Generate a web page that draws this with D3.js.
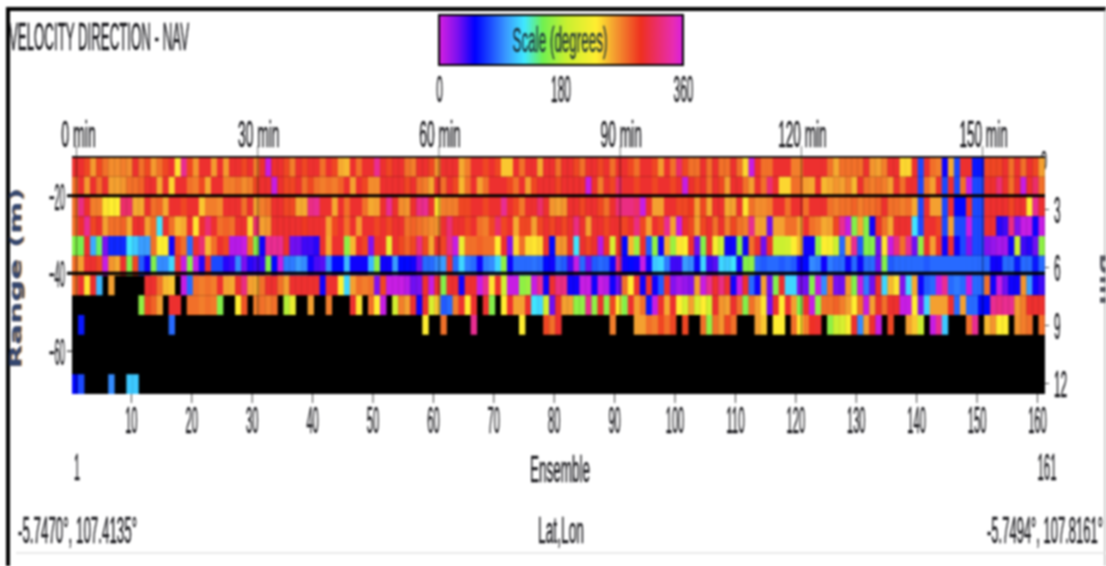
<!DOCTYPE html>
<html>
<head>
<meta charset="utf-8">
<style>
  html, body { margin: 0; padding: 0; background: #fff; overflow: hidden; }
  svg { display: block; filter: blur(1px); }
  text { font-family: "Liberation Sans", sans-serif; fill: #17171b; stroke: #17171b; stroke-width: 0.45px; }
  .domain { display: none; }
  .tick line { stroke: #444; }
</style>
</head>
<body>
<svg id="chart"></svg>
<script src="https://cdn.jsdelivr.net/npm/d3@7"></script>
<script>
// Velocity direction section, values are degrees, _ = no data (black)
var _ = null;

var ensembleTicks = [10, 20, 30, 40, 50, 60, 70, 80, 90, 100, 110, 120, 130, 140, 150, 160];
var minuteTicks = [0, 30, 60, 90, 120, 150];
var rangeTicks = [-20, -40, -60];
var binTicks = [3, 6, 9, 12];
var scaleTicks = [0, 180, 360];

var colourDegrees = [0, 28, 53, 100, 126, 153, 188, 232, 258, 298, 345, 360];
var colourValues = ["#d820e0", "#7a10f0", "#0000ff", "#3a9cff", "#40e8ff", "#70f050", "#c8f030",
                    "#ffee30", "#f4a030", "#ee3020", "#e82cb0", "#d820e0"];

var bin1 = [303,303,290,260,290,275,265,265,270,265,
  303,275,290,260,275,290,303,235,335,290,
  262,303,303,260,303,260,303,303,290,303,
  270,303,5,303,303,290,270,303,290,303,
  303,275,303,290,255,250,303,275,303,303,
  335,303,290,303,303,275,270,303,303,290,
  262,303,303,303,255,270,303,303,290,303,
  290,245,245,303,275,303,303,255,303,303,
  275,303,303,290,275,303,303,290,303,275,
  303,303,290,275,303,303,290,260,303,275,
  322,290,275,275,303,275,303,275,275,303,
  275,240,5,303,275,275,303,303,303,270,
  270,303,303,303,303,275,255,275,275,275,
  275,303,262,258,270,303,303,240,240,303,
  75,303,275,270,50,255,75,303,303,60,
  60,290,290,290,303,275,303,275,303,290,258];

var bin2 = [275,303,260,303,275,303,258,258,262,275,
  275,280,303,303,255,303,240,303,303,275,
  270,290,255,303,303,270,270,275,265,270,
  290,303,303,5,303,290,290,303,275,290,
  275,270,275,270,280,303,258,303,290,265,
  265,303,303,303,303,290,303,275,270,255,
  303,275,303,290,250,275,303,258,275,303,
  303,303,290,275,303,258,290,303,303,303,
  290,303,303,303,303,5,303,270,303,290,
  322,303,303,290,303,303,290,303,303,290,
  303,5,303,290,303,275,303,290,258,303,
  303,275,258,303,275,325,303,240,240,275,
  275,258,255,303,250,255,262,258,270,250,
  303,275,270,275,270,258,303,275,303,303,
  75,275,258,303,75,303,75,275,5,75,
  75,303,303,325,303,275,303,5,303,322,275];

var bin3 = [275,330,303,270,270,235,232,232,322,322,
  255,255,303,275,280,255,303,303,290,303,
  303,245,270,270,265,303,303,303,275,303,
  258,270,275,303,303,290,290,255,255,330,
  335,303,303,255,303,275,303,303,275,255,
  258,303,335,303,265,262,303,330,335,303,
  235,270,270,270,290,290,303,303,290,303,
  303,335,303,290,272,303,303,322,303,262,
  258,262,303,303,290,303,303,290,275,303,
  325,330,330,322,5,303,258,258,303,303,
  290,290,295,258,290,255,303,303,255,258,
  303,235,275,265,265,270,303,303,275,303,
  303,275,303,303,303,275,270,275,275,280,
  270,275,275,280,303,275,275,270,275,255,
  75,303,258,258,75,303,55,55,303,75,
  75,303,303,303,303,290,303,303,232,335,303];

var bin4 = [275,303,335,290,303,258,275,275,280,255,
  303,303,258,275,125,303,275,250,255,303,
  235,303,325,303,275,280,275,303,303,240,
  322,258,262,303,303,303,303,303,295,303,
  303,303,258,290,303,275,303,260,303,303,
  290,303,290,303,303,275,280,275,270,265,
  262,303,325,303,303,290,303,275,270,290,
  322,290,303,255,290,290,258,290,303,290,
  303,290,303,330,303,258,303,303,290,303,
  303,290,303,330,290,258,303,290,335,258,
  5,303,290,258,290,303,275,303,270,290,
  275,270,335,258,258,30,258,258,275,275,
  258,303,275,270,255,258,290,335,5,160,
  255,160,50,303,275,255,303,303,303,125,
  75,303,303,290,75,258,75,75,5,75,
  75,303,303,45,40,330,25,5,5,50,5];

var bin5 = [160,155,303,105,150,28,65,65,65,125,
  115,100,100,275,230,230,50,290,275,85,
  303,325,250,275,303,290,10,10,5,275,
  160,50,335,335,335,303,30,30,40,40,
  45,303,255,303,303,165,250,303,290,25,
  303,303,215,303,290,280,290,330,290,255,
  303,290,330,5,215,275,275,280,275,275,
  232,303,25,240,275,238,235,240,303,55,
  262,262,303,125,303,290,303,10,303,200,
  303,55,250,170,303,80,165,50,255,170,
  235,230,303,30,160,303,225,190,50,50,
  160,50,275,303,30,303,190,190,195,230,
  250,50,50,165,230,225,190,85,250,335,
  80,160,160,30,235,5,330,275,335,30,
  165,303,258,303,50,303,50,75,25,75,
  75,25,20,15,15,50,190,40,45,30,165];

var bin6 = [275,258,303,303,290,5,262,255,303,160,
  290,80,50,160,95,95,120,303,5,160,
  5,45,303,75,75,45,40,95,28,45,
  40,42,160,55,5,90,90,100,95,50,
  38,35,95,55,55,110,50,50,50,110,
  165,50,50,100,55,55,50,30,85,85,
  95,100,303,85,120,90,85,50,90,95,
  120,165,50,85,85,85,88,85,55,50,
  85,80,40,5,85,30,80,85,82,50,
  330,50,55,50,5,50,115,120,90,40,
  40,100,95,50,120,40,35,120,115,125,
  50,160,165,85,80,85,85,80,85,80,
  50,55,95,90,50,90,85,85,50,85,
  50,85,85,30,160,80,85,85,85,85,
  85,80,85,85,85,85,85,85,85,85,
  85,85,50,50,85,85,60,85,85,60,85];

var bin7 = [275,303,235,303,110,_,258,_,_,_,
  _,_,303,303,275,250,245,_,5,85,
  275,270,275,270,303,258,255,303,330,258,
  255,275,303,303,275,258,303,303,303,303,
  303,50,303,303,232,120,258,275,270,275,
  25,290,5,5,5,10,30,28,303,5,
  303,160,303,303,50,303,303,5,335,235,
  303,195,5,5,165,170,5,335,50,303,
  330,330,50,50,5,5,50,5,10,50,
  30,275,232,303,50,303,50,80,303,25,
  15,20,25,258,5,335,303,330,303,50,
  5,303,85,50,258,30,160,303,120,120,
  28,30,160,5,95,275,28,30,260,160,
  5,90,30,303,120,250,235,25,120,255,
  50,80,85,5,335,85,90,85,5,85,
  85,275,50,5,30,50,50,262,100,50,40];

var bin8 = [_,_,_,_,_,_,_,_,_,_,
  _,165,290,280,258,_,303,303,_,275,
  275,270,275,272,160,_,_,232,285,_,
  270,275,270,275,_,180,215,_,_,258,
  _,_,270,_,_,_,303,235,_,275,
  232,5,_,195,270,258,303,50,303,200,
  245,80,85,270,303,232,303,_,303,160,
  _,232,303,258,258,303,125,120,195,30,
  303,258,258,165,165,335,165,303,165,290,
  232,160,303,258,275,60,5,303,255,303,
  232,200,258,200,232,195,303,262,258,303,
  275,160,275,258,235,30,303,232,303,258,
  160,303,5,165,275,275,280,270,258,232,
  275,5,258,303,275,303,303,5,5,232,
  25,120,258,258,258,303,85,258,85,85,
  55,55,335,330,335,335,260,270,303,303,303];

var bin9 = [_,60,_,_,_,_,_,_,_,_,
  _,_,_,_,_,_,85,_,_,_,
  _,_,_,_,_,_,_,_,_,_,
  _,_,_,_,_,_,_,_,_,_,
  _,_,_,_,_,_,_,_,_,_,
  _,_,_,_,_,_,_,_,232,_,
  _,275,_,_,_,_,335,_,_,_,
  _,_,_,_,232,_,_,_,290,275,
  303,_,_,_,_,_,_,_,_,270,
  _,_,_,258,258,275,270,290,275,290,
  _,290,_,_,275,165,275,262,290,275,
  _,_,_,258,245,_,232,232,_,275,
  235,270,300,303,_,165,190,200,225,303,
  95,258,303,5,_,290,_,_,258,245,
  190,_,5,335,115,_,_,_,275,335,
  _,250,262,232,232,_,262,270,275,_,275];

var bin10 = [];
var bin11 = [];
var bin12 = [55,75,_,_,_,_,95,_,_,115,115];

var bins = [bin1, bin2, bin3, bin4, bin5, bin6, bin7, bin8, bin9, bin10, bin11, bin12];

// Layout Configuration
var svgWidth = 1106,
    svgHeight = 566,
    plot = {top: 157, bottom: 394, left: 72, right: 1045},
    labelSize = 37;

var svg = d3.select("#chart")
  .attr("width", svgWidth)
  .attr("height", svgHeight);

// Scales
var x = d3.scaleLinear().domain([1, 161]).range([76.5, 1043]);
var cellWidth = x(2) - x(1);
var row = d3.scaleBand().domain(d3.range(bins.length)).range([plot.top, plot.bottom]);
var rangeY = d3.scaleLinear().domain([-10, -71.16]).range([plot.top, plot.bottom]);
var binY = d3.scaleLinear().domain([0, 12]).range([151, 383]);
var colour = d3.scaleLinear().domain(colourDegrees).range(colourValues);
var scaleX = d3.scaleLinear().domain([0, 360]).range([439, 683]);

// everything in the picture is squeezed sideways, so each label gets a fixed width
function squeeze(sel, width) {
  return sel.attr("textLength", width).attr("lengthAdjust", "spacingAndGlyphs");
}

function label(str, cx, baseline, width, size) {
  return squeeze(svg.append("text")
    .attr("x", cx)
    .attr("y", baseline)
    .attr("text-anchor", "middle")
    .style("font-size", (size || labelSize) + "px")
    .text(str), width);
}

function drawFrame() {
  svg.append("rect").attr("x", 0).attr("y", 0).attr("width", svgWidth).attr("height", svgHeight).attr("fill", "#fff");
  svg.append("path").attr("d", "M8,572V9H1110").attr("fill", "none").attr("stroke", "#000").attr("stroke-width", 4);
  svg.append("path").attr("d", "M1105,9V572").attr("fill", "none").attr("stroke", "#9a9a9a").attr("stroke-width", 1);
  svg.append("path").attr("d", "M16,553H1110").attr("fill", "none").attr("stroke", "#e2e2e2").attr("stroke-width", 1.5);
}

function drawHeader() {
  squeeze(svg.append("text")
    .attr("x", 9).attr("y", 50)
    .style("font-size", "38px")
    .text("VELOCITY DIRECTION - NAV"), 180);

  var gradient = svg.append("defs").append("linearGradient").attr("id", "dirScale");
  gradient.selectAll("stop")
    .data(colourDegrees)
    .enter()
    .append("stop")
    .attr("offset", function(d) { return d / 360; })
    .attr("stop-color", function(d) { return colour(d); });

  svg.append("rect")
    .attr("x", scaleX(0)).attr("y", 15)
    .attr("width", scaleX(360) - scaleX(0)).attr("height", 50)
    .attr("fill", "url(#dirScale)")
    .attr("stroke", "#000").attr("stroke-width", 2);

  label("Scale (degrees)", 560, 52, 95, 35).style("fill", "#1b2f3a").style("stroke", "#1b2f3a");

  scaleTicks.forEach(function(d) {
    label(d, d === 0 ? 439.5 : scaleX(d) - (d === 180 ? 0 : -0.5), 102, String(d).length * 6.6);
  });
}

function drawCells() {
  // the 0 of the bin axis sticks out from behind the plot
  label("0", 1044, 170, 6, 28);

  svg.append("rect")
    .attr("x", plot.left).attr("y", plot.top)
    .attr("width", plot.right - plot.left).attr("height", plot.bottom - plot.top)
    .attr("fill", "#000");

  var rows = svg.append("g").selectAll("g")
    .data(bins)
    .enter()
    .append("g")
    .attr("transform", function(d, i) { return "translate(0," + row(i) + ")"; });

  rows.selectAll("rect")
    .data(function(d) {
      return d.map(function(v, i) { return {ensemble: i + 1, value: v}; })
        .filter(function(c) { return c.value !== null; });
    })
    .enter()
    .append("rect")
    .attr("x", function(d) { return x(d.ensemble) - 4.5; })
    .attr("width", cellWidth + 0.3)
    .attr("height", row.bandwidth())
    .attr("fill", function(d) { return colour(d.value); });
}

function drawAxes() {
  // time marks, run up through the plot
  svg.append("g").selectAll("line")
    .data(minuteTicks)
    .enter()
    .append("line")
    .attr("x1", function(d) { return x(d + 1); })
    .attr("x2", function(d) { return x(d + 1); })
    .attr("y1", 146).attr("y2", plot.bottom)
    .attr("stroke", "#000").attr("stroke-opacity", 0.55);

  minuteTicks.forEach(function(d) {
    var str = d + " min";
    label(str, x(d + 1) + (d === 0 ? 2 : 1), 147, str.length * 6.9);
  });

  svg.append("line")
    .attr("x1", plot.left).attr("x2", plot.right)
    .attr("y1", plot.top).attr("y2", plot.top)
    .attr("stroke", "#111").attr("stroke-width", 2);

  // range axis with its lines across the plot
  var rangeAxis = svg.append("g")
    .attr("transform", "translate(" + plot.left + ",0)")
    .call(d3.axisLeft(rangeY).tickValues(rangeTicks).tickSize(5).tickPadding(2));
  rangeAxis.selectAll("text").each(function() {
    squeeze(d3.select(this), 16).style("font-size", labelSize + "px").attr("dy", "0.36em");
  });
  rangeAxis.selectAll("line").attr("stroke", "#222").attr("stroke-width", 1.5);

  svg.append("g").selectAll("line")
    .data(rangeTicks.slice(0, 2))
    .enter()
    .append("line")
    .attr("x1", plot.left - 5).attr("x2", plot.right)
    .attr("y1", function(d) { return rangeY(d); })
    .attr("y2", function(d) { return rangeY(d); })
    .attr("stroke", "#000").attr("stroke-width", 3);

  // ensemble axis
  var ensembleAxis = svg.append("g")
    .attr("transform", "translate(0," + plot.bottom + ")")
    .call(d3.axisBottom(x).tickValues(ensembleTicks).tickSize(9).tickPadding(9));
  ensembleAxis.selectAll("text").each(function(d) {
    squeeze(d3.select(this), String(d).length * 6.2).style("font-size", labelSize + "px");
  });
  ensembleAxis.selectAll("text").attr("dy", "0.58em");

  // bin axis
  var binAxis = svg.append("g")
    .attr("transform", "translate(" + plot.right + ",0)")
    .call(d3.axisRight(binY).tickValues(binTicks).tickSize(4).tickPadding(5));
  binAxis.selectAll("text").each(function(d) {
    squeeze(d3.select(this), String(d).length * 6.6).style("font-size", labelSize + "px").attr("dy", "0.36em");
  });
}

function drawLabels() {
  label("1", 77, 480, 6);
  label("161", 1047, 480, 19);
  label("Ensemble", 560, 482, 60);
  label("Lat,Lon", 561, 543, 46);
  label("-5.7470°, 107.4135°", 77.5, 543, 119);
  label("-5.7494°, 107.8161°", 1045, 543, 116);

  // axis titles, bold and with the colour fringe of the scan
  [["#c98a3a", 1], ["#33466f", 0]].forEach(function(d) {
    squeeze(svg.append("text")
      .attr("transform", "translate(" + (21 + d[1]) + ",278) rotate(-90)")
      .attr("text-anchor", "middle")
      .style("font-family", "'DejaVu Sans', sans-serif")
      .style("font-weight", 700)
      .style("font-size", "15px")
      .style("fill", d[0])
      .style("stroke", "none")
      .text("Range (m)"), 181);
  });

  squeeze(svg.append("text")
    .attr("transform", "translate(1100,253) rotate(90)")
    .style("font-family", "'DejaVu Sans', sans-serif")
    .style("font-weight", 700)
    .style("font-size", "22px")
    .style("fill", "#55575f")
    .style("stroke", "none")
    .text("Bin"), 52);
}

drawFrame();
drawHeader();
drawCells();
drawAxes();
drawLabels();
</script>
</body>
</html>
